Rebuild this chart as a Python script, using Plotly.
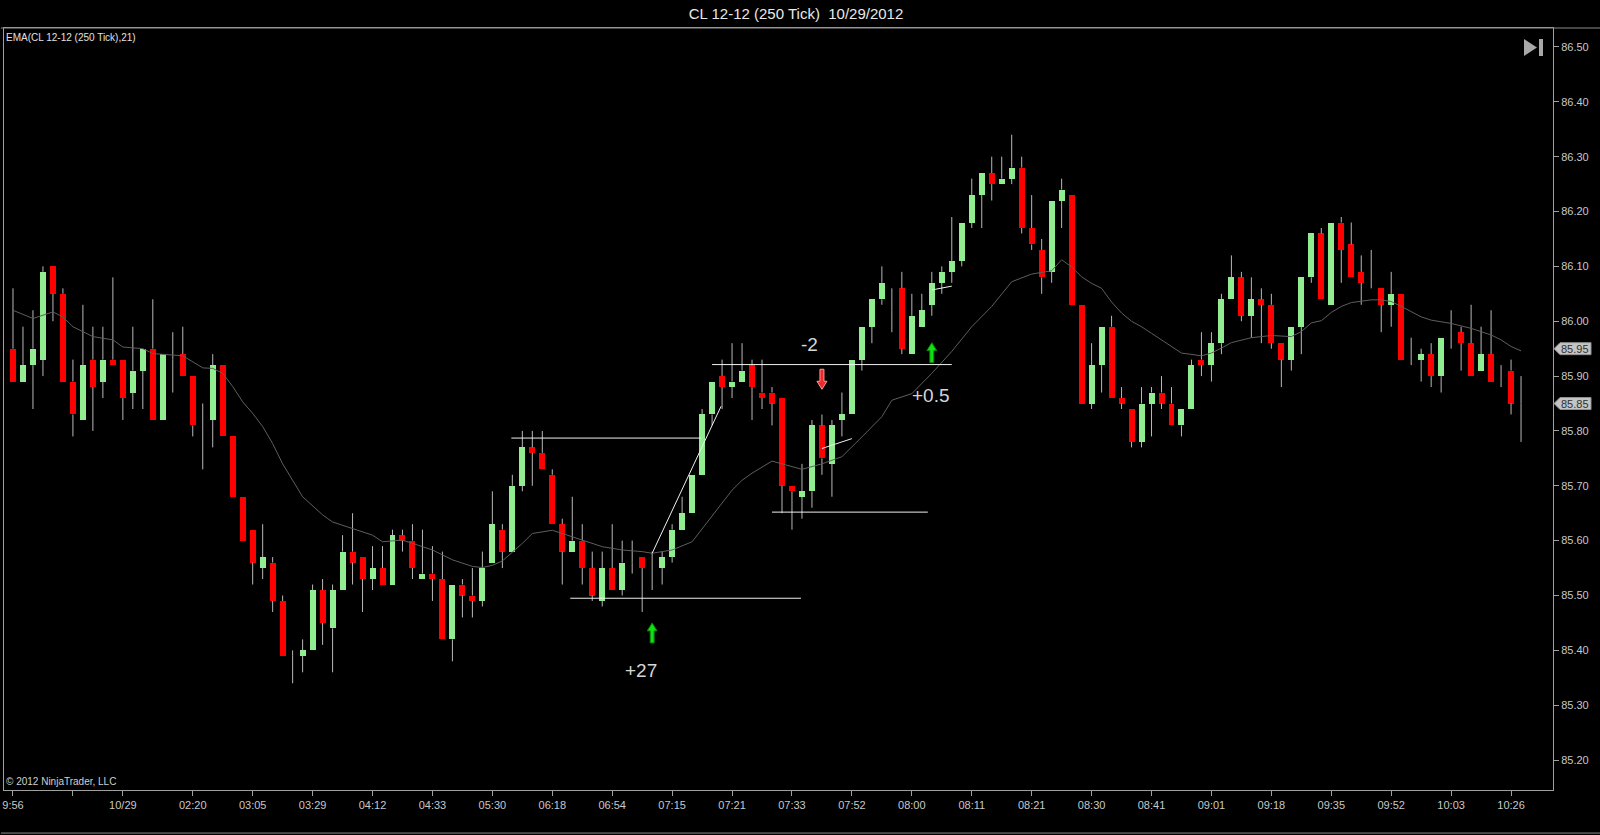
import plotly.graph_objects as go

# ---------------- data ----------------
opens = [85.95, 85.89, 85.92, 85.93, 86.10, 86.05, 85.89, 85.82, 85.93, 85.89,
         85.93, 85.93, 85.87, 85.91, 85.95, 85.82, 85.93, 85.94, 85.90, 85.80,
         85.82, 85.92, 85.79, 85.68, 85.62, 85.55, 85.56, 85.49, 85.39, 85.39,
         85.40, 85.51, 85.44, 85.51, 85.58, 85.57, 85.53, 85.55, 85.52, 85.61,
         85.60, 85.53, 85.54, 85.53, 85.42, 85.52, 85.50, 85.49, 85.56, 85.62,
         85.58, 85.70, 85.77, 85.76, 85.72, 85.63, 85.58, 85.60, 85.55, 85.49,
         85.55, 85.51, 85.56, 85.57, 85.57, 85.55, 85.57, 85.62, 85.65, 85.72,
         85.83, 85.90, 85.88, 85.89, 85.92, 85.87, 85.87, 85.86, 85.70, 85.68,
         85.69, 85.81, 85.74, 85.82, 85.83, 85.93, 85.99, 86.04, 86.02, 86.06,
         85.94, 85.99, 86.03, 86.07, 86.09, 86.11, 86.18, 86.23, 86.27, 86.25,
         86.26, 86.28, 86.17, 86.13, 86.09, 86.22, 86.23, 86.03, 85.85, 85.92,
         85.99, 85.86, 85.84, 85.78, 85.85, 85.87, 85.85, 85.81, 85.84, 85.93,
         85.92, 85.96, 86.04, 86.08, 86.01, 86.04, 86.03, 85.96, 85.93, 85.99,
         86.08, 86.16, 86.03, 86.18, 86.14, 86.09, 86.07, 86.06, 86.03, 86.05,
         85.94, 85.93, 85.94, 85.90, 85.98, 85.98, 85.96, 85.91, 85.94, 85.90,
         85.91, 85.85]
highs = [86.06, 85.99, 86.02, 86.10, 86.10, 86.06, 85.93, 86.03, 85.99, 85.99,
         86.08, 85.93, 85.99, 85.95, 86.04, 85.94, 85.98, 85.99, 85.90, 85.85,
         85.94, 85.92, 85.79, 85.68, 85.62, 85.63, 85.57, 85.50, 85.40, 85.42,
         85.52, 85.53, 85.52, 85.61, 85.65, 85.57, 85.59, 85.59, 85.62, 85.62,
         85.63, 85.62, 85.59, 85.58, 85.52, 85.53, 85.55, 85.58, 85.69, 85.63,
         85.72, 85.80, 85.80, 85.80, 85.73, 85.64, 85.68, 85.63, 85.58, 85.58,
         85.63, 85.60, 85.60, 85.57, 85.58, 85.58, 85.63, 85.68, 85.72, 85.84,
         85.89, 85.93, 85.96, 85.96, 85.93, 85.93, 85.88, 85.86, 85.70, 85.74,
         85.82, 85.83, 85.82, 85.87, 85.93, 85.99, 86.04, 86.10, 86.06, 86.09,
         86.05, 86.05, 86.09, 86.10, 86.19, 86.18, 86.26, 86.27, 86.30, 86.30,
         86.34, 86.30, 86.23, 86.15, 86.22, 86.26, 86.23, 86.03, 85.96, 85.99,
         86.01, 85.88, 85.84, 85.88, 85.88, 85.90, 85.88, 85.84, 85.93, 85.98,
         85.98, 86.05, 86.12, 86.09, 86.08, 86.06, 86.05, 85.96, 85.99, 86.08,
         86.16, 86.17, 86.18, 86.19, 86.18, 86.12, 86.13, 86.06, 86.09, 86.05,
         85.97, 85.95, 85.96, 85.97, 86.02, 85.99, 86.03, 85.99, 86.02, 85.92,
         85.93, 85.90]
lows = [85.89, 85.89, 85.84, 85.90, 86.00, 85.89, 85.79, 85.82, 85.80, 85.86,
        85.92, 85.82, 85.84, 85.84, 85.82, 85.82, 85.87, 85.90, 85.79, 85.73,
        85.77, 85.79, 85.68, 85.60, 85.52, 85.53, 85.47, 85.39, 85.34, 85.36,
        85.40, 85.41, 85.36, 85.51, 85.52, 85.47, 85.51, 85.52, 85.52, 85.58,
        85.53, 85.53, 85.49, 85.42, 85.38, 85.46, 85.46, 85.48, 85.56, 85.55,
        85.58, 85.69, 85.70, 85.73, 85.63, 85.52, 85.58, 85.52, 85.49, 85.48,
        85.51, 85.50, 85.54, 85.47, 85.51, 85.52, 85.56, 85.62, 85.65, 85.72,
        85.81, 85.84, 85.86, 85.89, 85.82, 85.84, 85.81, 85.65, 85.62, 85.64,
        85.66, 85.72, 85.68, 85.79, 85.83, 85.91, 85.96, 86.03, 85.98, 85.94,
        85.94, 85.99, 86.01, 86.05, 86.07, 86.10, 86.17, 86.17, 86.22, 86.25,
        86.25, 86.16, 86.13, 86.05, 86.07, 86.17, 86.03, 85.85, 85.84, 85.87,
        85.86, 85.84, 85.77, 85.77, 85.79, 85.84, 85.81, 85.79, 85.84, 85.90,
        85.89, 85.94, 86.04, 86.00, 85.97, 85.96, 85.95, 85.88, 85.91, 85.94,
        86.07, 86.04, 86.03, 86.07, 86.08, 86.03, 86.06, 85.98, 85.99, 85.93,
        85.92, 85.89, 85.88, 85.87, 85.95, 85.91, 85.90, 85.91, 85.89, 85.88,
        85.83, 85.78]
closes = [85.89, 85.92, 85.95, 86.09, 86.05, 85.89, 85.83, 85.92, 85.88, 85.93,
          85.92, 85.86, 85.91, 85.95, 85.82, 85.94, 85.93, 85.90, 85.81, 85.80,
          85.92, 85.79, 85.68, 85.60, 85.56, 85.57, 85.49, 85.39, 85.39, 85.40,
          85.51, 85.45, 85.51, 85.58, 85.56, 85.53, 85.55, 85.52, 85.61, 85.60,
          85.55, 85.54, 85.53, 85.42, 85.52, 85.50, 85.49, 85.55, 85.63, 85.58,
          85.70, 85.77, 85.76, 85.73, 85.63, 85.58, 85.60, 85.55, 85.50, 85.55,
          85.51, 85.56, 85.56, 85.55, 85.57, 85.57, 85.62, 85.65, 85.72, 85.83,
          85.89, 85.88, 85.89, 85.91, 85.88, 85.86, 85.85, 85.70, 85.69, 85.69,
          85.81, 85.75, 85.81, 85.83, 85.93, 85.99, 86.04, 86.07, 86.02, 85.95,
          86.01, 86.02, 86.07, 86.09, 86.11, 86.18, 86.23, 86.27, 86.25, 86.26,
          86.28, 86.17, 86.14, 86.08, 86.22, 86.24, 86.03, 85.85, 85.92, 85.99,
          85.86, 85.85, 85.78, 85.85, 85.87, 85.85, 85.81, 85.84, 85.92, 85.92,
          85.96, 86.04, 86.08, 86.01, 86.04, 86.03, 85.96, 85.93, 85.99, 86.08,
          86.16, 86.04, 86.18, 86.13, 86.08, 86.07, 86.07, 86.03, 86.05, 85.93,
          85.94, 85.94, 85.90, 85.97, 85.98, 85.96, 85.90, 85.94, 85.89, 85.90,
          85.85, 85.85]

# EMA(21): bar index -> value
ema_idx = [0, 2, 4, 5, 6, 8, 10, 11, 13, 14, 17, 19, 20, 21, 22, 23, 24, 25, 26, 27,
           29, 31, 32, 34, 36, 37, 39, 41, 42, 44, 46, 47, 48, 49, 51, 52, 54, 55, 57, 59,
           61, 63, 64, 66, 68, 70, 72, 73, 74, 76, 79, 81, 83, 85, 87, 88, 90, 92, 94, 96,
           98, 100, 102, 104, 105, 106, 107, 108, 109, 110, 111, 112, 113, 114, 116, 117, 119, 120, 121, 122,
           124, 126, 128, 129, 130, 131, 132, 133, 134, 136, 137, 138, 139, 140, 141, 142, 144, 146, 148, 149,
           150, 151]
ema_val = [86.020, 86.005, 86.017, 86.008, 85.990, 85.972, 85.966, 85.953, 85.950, 85.941,
           85.937, 85.915, 85.914, 85.905, 85.881, 85.853, 85.832, 85.808, 85.777, 85.740,
           85.680, 85.647, 85.634, 85.622, 85.610, 85.598, 85.601, 85.589, 85.583, 85.565,
           85.553, 85.551, 85.555, 85.563, 85.595, 85.613, 85.619, 85.613, 85.601, 85.589,
           85.583, 85.580, 85.577, 85.583, 85.598, 85.644, 85.692, 85.710, 85.723, 85.745,
           85.730, 85.740, 85.753, 85.789, 85.826, 85.856, 85.868, 85.905, 85.945, 85.990,
           86.027, 86.072, 86.086, 86.092, 86.112, 86.099, 86.081, 86.069, 86.060, 86.035,
           86.015, 86.000, 85.990, 85.978, 85.954, 85.942, 85.937, 85.942, 85.951, 85.961,
           85.970, 85.974, 85.972, 85.981, 85.997, 86.001, 86.016, 86.027, 86.034, 86.039,
           86.039, 86.036, 86.027, 86.017, 86.008, 86.002, 85.996, 85.987, 85.975, 85.966,
           85.954, 85.946]

tick_idx = [0, 6, 11, 18, 24, 30, 36, 42, 48, 54, 60, 66, 72, 78, 84, 90, 96, 102,
            108, 114, 120, 126, 132, 138, 144, 150]
tick_text = ["9:56", "", "10/29", "02:20", "03:05", "03:29", "04:12", "04:33", "05:30",
             "06:18", "06:54", "07:15", "07:21", "07:33", "07:52", "08:00", "08:11",
             "08:21", "08:30", "08:41", "09:01", "09:18", "09:35", "09:52", "10:03", "10:26"]
price_ticks = [85.20, 85.30, 85.40, 85.50, 85.60, 85.70, 85.80, 85.90,
               86.00, 86.10, 86.20, 86.30, 86.40, 86.50]

# user-drawn objects on the chart (bar index, price)
hlines = [(49.9, 68.9, 85.787), (55.8, 78.9, 85.495), (70.0, 94.0, 85.921), (76.0, 91.6, 85.652)]
seglines = [(64.0, 85.577, 70.9, 85.845), (81.0, 85.768, 84.0, 85.786), (92.0, 86.057, 94.0, 86.064)]
up_arrows = [(64, 85.450), (92, 85.961)]
down_arrows = [(81, 85.876)]
labels = [(62.9, 85.364, "+27"), (79.8, 85.957, "-2"), (91.9, 85.864, "+0.5")]
price_markers = [85.95, 85.85]

# ---------------- figure ----------------
UP = '#90EE90'
DOWN = '#FF0000'
WICK = '#B8B8B8'
AXC = '#A0A0A0'
TXT = '#C8C8C8'
FONT = 'Liberation Sans, Arial, sans-serif'

idx = list(range(len(opens)))
body_base = [min(o, c) for o, c in zip(opens, closes)]
body_h = [abs(c - o) for o, c in zip(opens, closes)]
body_col = [UP if c > o else (DOWN if c < o else WICK) for o, c in zip(opens, closes)]

wx, wy = [], []
for i, o, h, l, c in zip(idx, opens, highs, lows, closes):
    top, bot = max(o, c), min(o, c)
    if h > top:
        wx += [i, i, None]
        wy += [top, h, None]
    if l < bot:
        wx += [i, i, None]
        wy += [l, bot, None]

fig = go.Figure()
fig.add_trace(go.Bar(x=idx, y=body_h, base=body_base, width=0.6,
                     marker=dict(color=body_col, line=dict(width=0)), hoverinfo='skip'))
fig.add_trace(go.Scatter(x=wx, y=wy, mode='lines', line=dict(color=WICK, width=1),
                         hoverinfo='skip'))
fig.add_trace(go.Scatter(x=ema_idx, y=ema_val, mode='lines',
                         line=dict(color='#5E5E5E', width=1), hoverinfo='skip'))

shapes = []
for x0, x1, y in hlines:
    shapes.append(dict(type='line', xref='x', yref='y', x0=x0, x1=x1, y0=y, y1=y,
                       line=dict(color='#F0F0F0', width=1)))
for x0, y0, x1, y1 in seglines:
    shapes.append(dict(type='line', xref='x', yref='y', x0=x0, x1=x1, y0=y0, y1=y1,
                       line=dict(color='#F0F0F0', width=1)))
for xa, ya in up_arrows:
    shapes.append(dict(type='path', xref='x', yref='y', xsizemode='pixel', ysizemode='pixel',
                       xanchor=xa, yanchor=ya,
                       path='M 0,0 L 5,-8 L 2,-8 L 2,-20 L -2,-20 L -2,-8 L -5,-8 Z',
                       fillcolor='#12E012', line=dict(color='#0B7A0B', width=1)))
for xa, ya in down_arrows:
    shapes.append(dict(type='path', xref='x', yref='y', xsizemode='pixel', ysizemode='pixel',
                       xanchor=xa, yanchor=ya,
                       path='M 0,0 L 5,8 L 2,8 L 2,20 L -2,20 L -2,8 L -5,8 Z',
                       fillcolor='#F02828', line=dict(color='#FF9A9A', width=1)))
for p in price_markers:
    shapes.append(dict(type='path', xref='paper', yref='y', xsizemode='pixel', ysizemode='pixel',
                       xanchor=1, yanchor=p,
                       path='M 1,0 L 7,6 L 38,6 L 38,-6 L 7,-6 Z',
                       fillcolor='#C4C4C4', line=dict(color='#909090', width=1)))
# "go to end" icon, top-right of the price panel
shapes.append(dict(type='path', xref='paper', yref='paper', xsizemode='pixel', ysizemode='pixel',
                   xanchor=1, yanchor=1, path='M -29,-11 L -29,-28 L -16,-19.5 Z',
                   fillcolor='#A8A8A8', line=dict(width=0)))
shapes.append(dict(type='path', xref='paper', yref='paper', xsizemode='pixel', ysizemode='pixel',
                   xanchor=1, yanchor=1, path='M -14,-11 L -10,-11 L -10,-28 L -14,-28 Z',
                   fillcolor='#A8A8A8', line=dict(width=0)))
# window frame lines
shapes.append(dict(type='line', xref='paper', yref='paper', x0=-0.002, x1=1.031, y0=1, y1=1,
                   line=dict(color='#8C8C8C', width=1)))
shapes.append(dict(type='line', xref='paper', yref='paper', x0=-0.002, x1=1.031, y0=-0.0565, y1=-0.0565,
                   line=dict(color='#8C8C8C', width=1)))

annotations = []
for x, y, t in labels:
    annotations.append(dict(x=x, y=y, xref='x', yref='y', text=t, showarrow=False,
                            font=dict(family=FONT, size=19, color='#D6D6D6')))
for p in price_markers:
    annotations.append(dict(x=1, y=p, xref='paper', yref='y', text=f"{p:.2f}", showarrow=False,
                            xanchor='left', xshift=6, font=dict(family=FONT, size=11, color='#303030')))
annotations.append(dict(x=0, y=0.987, xref='paper', yref='paper', text="EMA(CL 12-12 (250 Tick),21)",
                        showarrow=False, xanchor='left', yanchor='middle', xshift=0,
                        font=dict(family=FONT, size=10, color='#E0E0E0')))
annotations.append(dict(x=0, y=0.011, xref='paper', yref='paper', text="© 2012 NinjaTrader, LLC",
                        showarrow=False, xanchor='left', yanchor='middle', xshift=0,
                        font=dict(family=FONT, size=10, color='#D0D0D0')))

fig.update_layout(
    width=1600, height=835,
    margin=dict(l=2, r=47, t=28, b=45),
    paper_bgcolor='#000000', plot_bgcolor='#000000',
    showlegend=False, hovermode=False, bargap=0,
    title=dict(text="CL 12-12 (250 Tick)  10/29/2012", x=0.4975, xanchor='center',
               y=0.984, yanchor='middle', font=dict(family=FONT, size=15, color='#E8E8E8')),
    shapes=shapes, annotations=annotations,
    xaxis=dict(range=[-0.9, 154.2], tickmode='array', tickvals=tick_idx, ticktext=tick_text,
               showgrid=False, zeroline=False, showline=True, mirror=True, linecolor=AXC,
               linewidth=1, ticks='outside', ticklen=5, tickcolor=AXC,
               tickfont=dict(family=FONT, size=11, color=TXT)),
    yaxis=dict(range=[85.1454, 86.5346], side='right', tickmode='array', tickvals=price_ticks,
               tickformat='.2f', showgrid=False, zeroline=False, showline=True, mirror=True,
               linecolor=AXC, linewidth=1, ticks='outside', ticklen=5, tickcolor=AXC,
               tickfont=dict(family=FONT, size=11, color=TXT)),
)

fig.write_html("out.html", config={'displayModeBar': False},
               post_script="document.body.style.margin='0';document.body.style.background='#000';")
